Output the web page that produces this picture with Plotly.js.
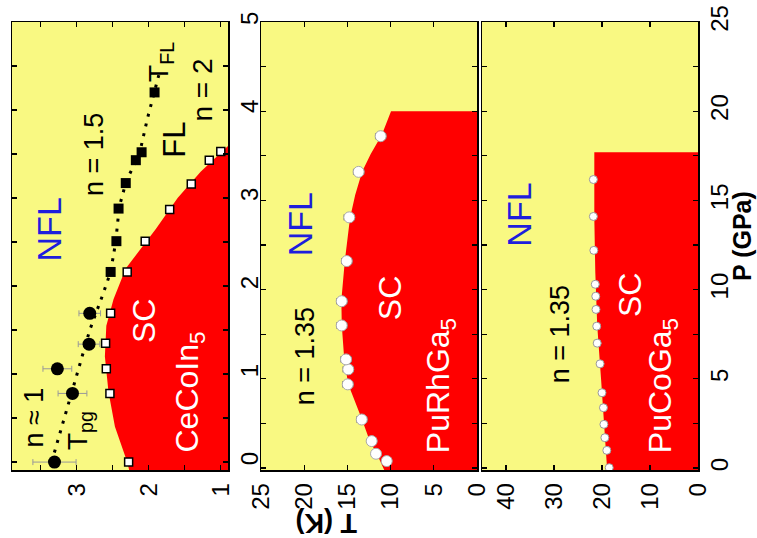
<!DOCTYPE html>
<html>
<head>
<meta charset="utf-8">
<script src="https://cdn.plot.ly/plotly-3.0.1.min.js"></script>
<style>html,body{margin:0;padding:0;background:#fff;}#chart{width:757px;height:538px;}</style>
</head>
<body>
<div id="chart"></div>
<script>
// ---------- CeCoIn5 (left panel) ----------
const ceP_tc = [0, 0.78, 1.06, 1.35, 1.69, 2.16, 2.51, 2.87, 3.16, 3.43, 3.53];
const ceT_tc = [2.28, 2.54, 2.59, 2.60, 2.53, 2.30, 2.05, 1.71, 1.41, 1.16, 1.00];
const ceP_pg = [0, 0.78, 1.06, 1.34, 1.69];
const ceT_pg = [3.31, 3.06, 3.27, 2.83, 2.82];
const ceT_pg_err = [0.3, 0.2, 0.2, 0.15, 0.15];
const ceP_fl = [2.16, 2.51, 2.88, 3.17, 3.43, 3.52, 4.2];
const ceT_fl = [2.53, 2.45, 2.42, 2.32, 2.18, 2.10, 1.92];
const ceP_guide = [0, 0.5, 1.0, 1.5, 1.9, 2.16, 2.5, 2.9, 3.2, 3.5, 3.9, 4.2, 4.4];
const ceT_guide = [3.35, 3.17, 3.0, 2.82, 2.64, 2.53, 2.46, 2.41, 2.31, 2.13, 2.02, 1.93, 1.86];
const ceP_sc = [-0.1, 0, 0.4, 0.8, 1.2, 1.55, 1.85, 2.2, 2.65, 3.0, 3.3, 3.6];
const ceT_sc = [2.27, 2.30, 2.47, 2.56, 2.61, 2.59, 2.49, 2.32, 1.90, 1.60, 1.28, 0.89];

// ---------- PuRhGa5 (middle panel) ----------
const rhP = [0.39, 0.80, 1.51, 2.72, 4.69, 5.53, 6.09, 7.99, 9.35, 11.6, 14.05, 16.6, 18.6];
const rhT = [10.45, 11.69, 12.19, 13.34, 14.96, 14.9, 15.16, 15.66, 15.66, 15.08, 14.78, 13.7, 11.15];
const rhT_err = [0.3, 0.4, 0.4, 0.6, 0.6, 0.6, 0.6, 0.6, 0.6, 0.6, 0.6, 0.6, 0.6];
const rhP_sc = [-0.2, 0.8, 1.5, 2.7, 4.7, 6.0, 8.0, 9.4, 11.6, 14.0, 15.3, 16.6, 17.6, 18.7, 20.0];
const rhT_sc = [10.65, 11.6, 12.4, 13.3, 14.9, 15.35, 15.65, 15.7, 15.3, 14.7, 14.1, 13.3, 12.3, 11.0, 9.95];

// ---------- PuCoGa5 (right panel) ----------
const coP = [16.17, 14.1, 12.2, 10.3, 9.63, 8.89, 7.95, 7.0, 5.84, 4.22, 3.38, 2.45, 1.70, 0.99, 0.02];
const coT = [21.8, 21.8, 21.7, 21.4, 21.3, 21.25, 21.1, 21.0, 20.4, 20.0, 19.7, 19.6, 19.4, 19.0, 18.5];
const coT_err = [0.5, 0.5, 0.5, 0.5, 0.5, 0.5, 0.5, 0.5, 0.5, 0.5, 0.5, 0.5, 0.5, 0.5, 0.5];
const coP_sc = [-0.2, 2, 5, 8, 11, 14, 17.7];
const coT_sc = [18.9, 19.4, 20.2, 21.0, 21.4, 21.6, 21.6];

// axis tick settings
const ceTickT = 1, ceTickP = 1;
const puTickRhT = 5, puTickCoT = 10, puTickP = 5;

const RED = '#FF0000', YEL = '#F9F982', BLUE = '#1E1EDC';
const FONT = 'Liberation Sans, Arial, Helvetica, sans-serif';

function fillTrace(x, y, xa, ya) {
  return {x: x, y: y, xaxis: xa, yaxis: ya, type: 'scatter', mode: 'lines',
    fill: 'tozerox', fillcolor: RED, line: {width: 0, color: RED}, hoverinfo: 'skip', showlegend: false};
}

const traces = [
  fillTrace(ceT_sc, ceP_sc, 'x', 'y'),
  fillTrace(rhT_sc, rhP_sc, 'x2', 'y2'),
  fillTrace(coT_sc, coP_sc, 'x3', 'y3'),
  {x: ceT_guide, y: ceP_guide, xaxis: 'x', yaxis: 'y', type: 'scatter', mode: 'lines',
    line: {color: '#000', width: 3, dash: '3px,7px'}, showlegend: false},
  {x: ceT_tc, y: ceP_tc, xaxis: 'x', yaxis: 'y', type: 'scatter', mode: 'markers',
    marker: {symbol: 'square', size: 8, color: '#fff', line: {color: '#000', width: 1.5}}, showlegend: false},
  {x: ceT_pg, y: ceP_pg, xaxis: 'x', yaxis: 'y', type: 'scatter', mode: 'markers',
    error_x: {type: 'data', array: ceT_pg_err, color: '#999', thickness: 1, width: 3},
    marker: {symbol: 'circle', size: 13, color: '#000'}, showlegend: false},
  {x: ceT_fl, y: ceP_fl, xaxis: 'x', yaxis: 'y', type: 'scatter', mode: 'markers',
    marker: {symbol: 'square', size: 10, color: '#000'}, showlegend: false},
  {x: rhT, y: rhP, xaxis: 'x2', yaxis: 'y2', type: 'scatter', mode: 'markers',
    error_x: {type: 'data', array: rhT_err, color: '#666', thickness: 1, width: 3},
    marker: {symbol: 'circle', size: 11, color: '#fff', line: {color: '#aaa', width: 1}}, showlegend: false},
  {x: coT, y: coP, xaxis: 'x3', yaxis: 'y3', type: 'scatter', mode: 'markers',
    error_x: {type: 'data', array: coT_err, color: '#666', thickness: 1, width: 3},
    marker: {symbol: 'circle', size: 8, color: '#fff', line: {color: '#999', width: 1}}, showlegend: false}
];

const W = 757, H = 538;
const yDom = [1 - 470 / H, 1 - 22 / H];
function xAx(dom, range, dtick, minor) {
  const a = {domain: dom, range: range, dtick: dtick, tick0: 0, ticks: 'inside', ticklen: 5, tickwidth: 1.3,
    tickcolor: '#000', showline: true, linecolor: '#000', linewidth: 1.5, mirror: 'ticks',
    showgrid: false, zeroline: false, tickangle: -90, ticklabelstandoff: 2,
    tickfont: {family: FONT, size: 24, color: '#000'}};
  if (minor) a.minor = {dtick: minor, ticks: 'inside', ticklen: 5, tickwidth: 1.3, tickcolor: '#000', showgrid: false};
  return a;
}
function yAx(range, dtick, minor, labels, anchor) {
  return {domain: yDom, range: range, dtick: dtick, tick0: 0, side: 'right', anchor: anchor,
    ticks: 'inside', ticklen: 5, tickwidth: 1.3, tickcolor: '#000', showline: true, linecolor: '#000', linewidth: 1.5,
    mirror: 'ticks', showgrid: false, zeroline: false, tickangle: -90, showticklabels: labels, ticklabelstandoff: 0,
    tickfont: {family: FONT, size: 24, color: '#000'},
    minor: {dtick: minor, ticks: 'inside', ticklen: 5, tickwidth: 1.3, tickcolor: '#000', showgrid: false}};
}

function ann(text, x, y, xr, yr, size, color, extra) {
  return Object.assign({text: text, x: x, y: y, xref: xr, yref: yr, showarrow: false, textangle: -90,
    xanchor: 'center', yanchor: 'middle', font: {family: FONT, size: size, color: color}}, extra || {});
}

const annotations = [
  ann('NFL', 3.39, 2.64, 'x', 'y', 34, BLUE),
  ann('n = 1.5', 2.76, 3.49, 'x', 'y', 27, '#000'),
  ann('FL', 1.64, 3.66, 'x', 'y', 31, '#000'),
  ann('n = 2', 1.25, 4.23, 'x', 'y', 28, '#000'),
  ann('T<sub>FL</sub>', 1.84, 4.55, 'x', 'y', 28, '#000'),
  ann('n ≈ 1', 3.59, 0.51, 'x', 'y', 27, '#000'),
  ann('T<sub>pg</sub>', 2.96, 0.36, 'x', 'y', 28, '#000'),
  ann('SC', 2.07, 1.6, 'x', 'y', 32, '#fff'),
  ann('CeCoIn<sub>5</sub>', 1.43, 0.8, 'x', 'y', 32, '#fff'),
  ann('NFL', 20.5, 13.66, 'x2', 'y2', 34, BLUE),
  ann('n = 1.35', 19.9, 6.27, 'x2', 'y2', 27, '#000'),
  ann('SC', 10.07, 9.52, 'x2', 'y2', 32, '#fff'),
  ann('PuRhGa<sub>5</sub>', 4.28, 4.59, 'x2', 'y2', 32, '#fff'),
  ann('NFL', 37.3, 14.2, 'x3', 'y3', 34, BLUE),
  ann('n = 1.35', 28.75, 7.5, 'x3', 'y3', 27, '#000'),
  ann('SC', 14.2, 9.69, 'x3', 'y3', 32, '#fff'),
  ann('PuCoGa<sub>5</sub>', 7.5, 4.59, 'x3', 'y3', 32, '#fff'),
  ann('<b>P (GPa)</b>', 742 / W, 1 - 236 / H, 'paper', 'paper', 25, '#000'),
  ann('<b>T (K)</b>', 327 / W, 1 - 523 / H, 'paper', 'paper', 27, '#000', {textangle: 180})
];

const layout = {
  width: W, height: H, margin: {l: 0, r: 0, t: 0, b: 0},
  paper_bgcolor: '#fff', plot_bgcolor: YEL, showlegend: false,
  font: {family: FONT, color: '#000'},
  xaxis: xAx([12 / W, 228 / W], [3.9, 0.9], ceTickT, 0.5),
  yaxis: yAx([-0.09, 5], ceTickP, 0.5, true, 'x'),
  xaxis2: xAx([261 / W, 477 / W], [25, 0], puTickRhT, null),
  yaxis2: yAx([-0.11, 25], puTickP, 2.5, false, 'x2'),
  xaxis3: xAx([482 / W, 698 / W], [45, 0], puTickCoT, null),
  yaxis3: yAx([-0.11, 25], puTickP, 2.5, true, 'x3'),
  annotations: annotations
};
layout.xaxis.anchor = 'y';
layout.xaxis2.anchor = 'y2';
layout.xaxis3.anchor = 'y3';

Plotly.newPlot('chart', traces, layout, {staticPlot: true, displayModeBar: false});
</script>
</body>
</html>
